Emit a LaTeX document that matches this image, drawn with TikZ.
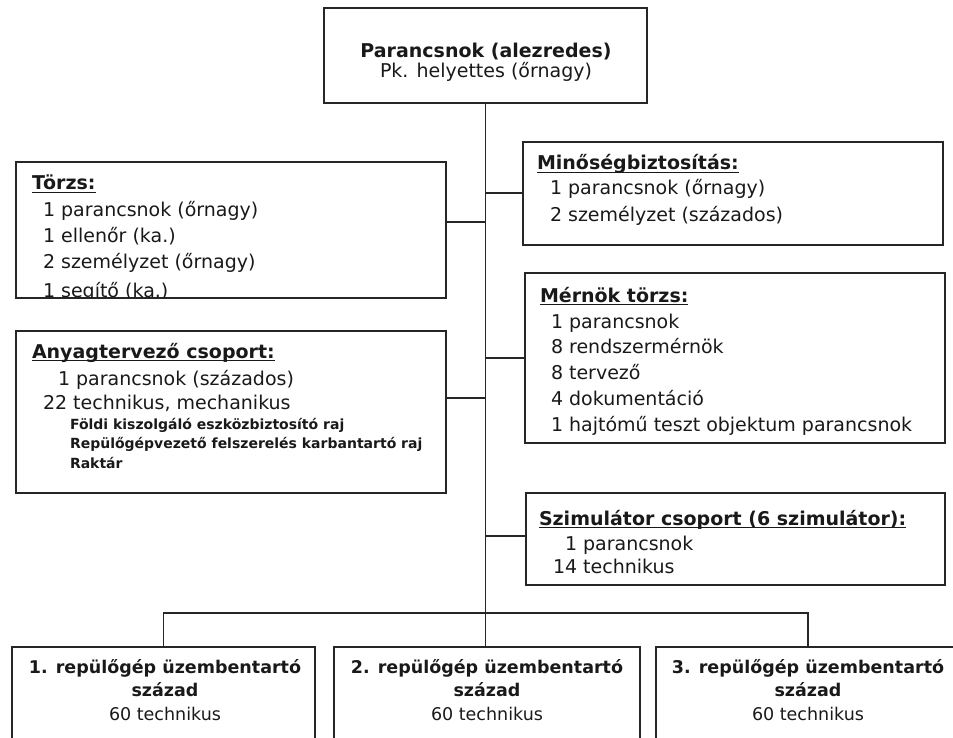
\documentclass[tikz,border=0pt]{standalone}
\usepackage{fontspec}
\setmainfont{DejaVu Sans}
% bold heading with a rule close under the baseline
\newcommand\headul[1]{\setbox0\hbox{#1}\rlap{\rule[-3pt]{\wd0}{1.3pt}}\box0}
\begin{document}
\begin{tikzpicture}[x=1pt,y=-1pt,
  box/.style={draw=black!85, line width=1.9pt, rectangle, inner sep=0pt, outer sep=0pt, anchor=north west},
  link/.style={draw=black!85, line width=1.9pt},
  txt/.style={inner sep=0pt, outer sep=0pt, anchor=base west, text=black!90, font=\fontsize{19}{23}\selectfont},
  head/.style={txt, font=\fontsize{19}{23}\selectfont\bfseries},
  small/.style={txt, font=\fontsize{14}{17}\selectfont\bfseries},
  ctext/.style={inner sep=0pt, outer sep=0pt, anchor=base, text=black!90, font=\fontsize{19}{23}\selectfont},
  cbold/.style={ctext, font=\fontsize{19}{23}\selectfont\bfseries},
  utext/.style={ctext, font=\fontsize{17.5}{21}\selectfont},
  ubold/.style={ctext, font=\fontsize{17.5}{21}\selectfont\bfseries}
]
\useasboundingbox (0,0) rectangle (953,738);
\clip (0,0) rectangle (953,738);

% boxes
\node[box, minimum width=323, minimum height=95]  (top)     at (324,8)   {};
\node[box, minimum width=430, minimum height=136] (torzs)   at (16,162)  {};
\node[box, minimum width=430, minimum height=162] (anyag)   at (16,331)  {};
\node[box, minimum width=420, minimum height=103] (minoseg) at (523,142)  {};
\node[box, minimum width=420, minimum height=170] (mernok)  at (525,273)  {};
\node[box, minimum width=419, minimum height=92]  (szim)    at (526,493)  {};
\node[box, minimum width=303, minimum height=120] (sz1)     at (12,647)  {};
\node[box, minimum width=306, minimum height=120] (sz2)     at (334,647) {};
\node[box, minimum width=304, minimum height=120] (sz3)     at (656,647) {};

% connectors
\coordinate (spine) at (top.south);
\draw[link] (spine) -- (spine |- sz2.north);
\path (torzs.north east) ++(0,60) coordinate (tzc);
\draw[link] (tzc) -- (tzc -| spine);
\path (minoseg.north west) ++(0,51) coordinate (mbc);
\draw[link] (mbc) -- (mbc -| spine);
\path (anyag.north east) ++(0,67) coordinate (acs);
\draw[link] (acs) -- (acs -| spine);
\draw[link] (mernok.west) -- (mernok.west -| spine);
\path (szim.north west) ++(0,43) coordinate (szc);
\draw[link] (szc) -- (szc -| spine);
\draw[link] (sz1.north) -- ++(0,-34) -| (sz3.north);

% top box
\node[cbold] (t1) at (486,58) {Parancsnok (alezredes)};
\node[ctext] (t2) at (486,78) {Pk. helyettes (őrnagy)};

% Törzs (last line cut by the frame)
\begin{scope}
  \clip (torzs.north west) rectangle ([yshift=1pt]torzs.south east);
  \node[head] (tz0) at (32,190) {\headul{Törzs:}};
  \node[txt]  (tz1) at (43,217) {1 parancsnok (őrnagy)};
  \node[txt]  (tz2) at (43,242.5) {1 ellenőr (ka.)};
  \node[txt]  (tz3) at (43,268) {2 személyzet (őrnagy)};
  \node[txt]  (tz4) at (43,297) {1 segítő (ka.)};
\end{scope}

% Anyagtervező csoport
\node[head]  (a0) at (32,358) {\headul{Anyagtervező csoport:}};
\node[txt]   (a1) at (58,385) {1 parancsnok (százados)};
\node[txt]   (a2) at (43,409) {22 technikus, mechanikus};
\node[small] (a3) at (70,429) {Földi kiszolgáló eszközbiztosító raj};
\node[small] (a4) at (70,448.5) {Repülőgépvezető felszerelés karbantartó raj};
\node[small] (a5) at (70,468) {Raktár};

% Minőségbiztosítás
\node[head] (m0) at (537,170) {\headul{Minőségbiztosítás:}};
\node[txt]  (m1) at (550,195) {1 parancsnok (őrnagy)};
\node[txt]  (m2) at (550,221.5) {2 személyzet (százados)};

% Mérnök törzs
\node[head] (e0) at (540,302) {\headul{Mérnök törzs:}};
\node[txt]  (e1) at (551,328) {1 parancsnok};
\node[txt]  (e2) at (551,353.5) {8 rendszermérnök};
\node[txt]  (e3) at (551,379) {8 tervező};
\node[txt]  (e4) at (551,405) {4 dokumentáció};
\node[txt]  (e5) at (551,431) {1 hajtómű teszt objektum parancsnok};

% Szimulátor csoport
\node[head] (s0) at (539,525) {\headul{Szimulátor csoport (6 szimulátor):}};
\node[txt]  (s1) at (565,550) {1 parancsnok};
\node[txt]  (s2) at (553,573) {14 technikus};

% maintenance squadrons
\foreach \n/\k/\x in {sz1/1/165, sz2/2/487, sz3/3/808} {
  \node[ubold] (\n a) at (\x,673) {\k. repülőgép üzembentartó};
  \node[ubold] (\n b) at (\x,696) {század};
  \node[utext] (\n c) at (\x,720) {60 technikus};
}
\end{tikzpicture}
\end{document}
